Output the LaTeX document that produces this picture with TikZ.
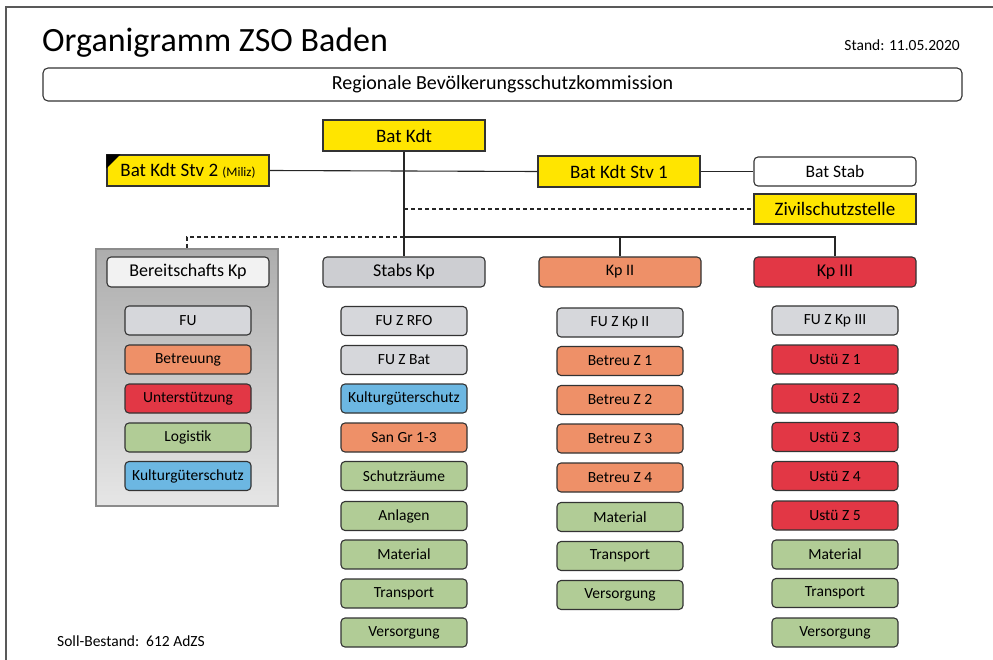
\documentclass[tikz,border=0pt]{standalone}
\usepackage{fontspec}
\setmainfont{Carlito}
\usetikzlibrary{calc}
\definecolor{zyellow}{HTML}{FFE500}
\definecolor{zgray}{HTML}{D6D7DB}
\definecolor{zhgray}{HTML}{CDCED2}
\definecolor{zorange}{HTML}{EE9068}
\definecolor{zred}{HTML}{E23745}
\definecolor{zgreen}{HTML}{B1CC96}
\definecolor{zblue}{HTML}{6CB7E2}
\definecolor{zborder}{HTML}{333333}
\definecolor{ztop}{HTML}{ADADAD}
\definecolor{zbot}{HTML}{E6E6E6}
\tikzset{
  ybox/.style={draw=zborder, line width=1.1pt, fill=zyellow, minimum width=162pt, minimum height=31pt, inner sep=0pt, font=\fontsize{19}{22}\selectfont},
  hbox/.style={draw=zborder, line width=1.1pt, rounded corners=4pt, minimum width=162pt, minimum height=30pt, inner sep=0pt, font=\fontsize{18}{21}\selectfont},
  sub/.style={draw=zborder, line width=1.1pt, rounded corners=4pt, minimum width=126pt, minimum height=29pt, inner sep=0pt, font=\fontsize{15.5}{18}\selectfont},
  conn/.style={line width=1.1pt, draw=black!85},
  dconn/.style={conn, dashed, dash pattern=on 4pt off 3pt}
}
\begin{document}
\begin{tikzpicture}[x=1pt,y=-1pt]
\useasboundingbox (0,0) rectangle (993,660);
% frame
\draw[line width=1.3pt, draw=black!65] (6,660) -- (6,7) -- (993,7);
% title
\node[anchor=base west, inner sep=0pt, font=\fontsize{34}{40}\selectfont] (title) at (42,52) {Organigramm ZSO Baden};
\node[anchor=base east, inner sep=0pt, font=\fontsize{15.5}{18}\selectfont] (stand) at (960,51) {Stand: 11.05.2020};
\node[draw=zborder, line width=1.1pt, rounded corners=5pt, minimum width=919pt, minimum height=33pt, inner sep=0pt, font=\fontsize{20}{23}\selectfont] (comm) at (502.5,84.5) {Regionale Bevölkerungsschutzkommission};
% top level
\node[ybox] (batkdt) at (404,135.5) {Bat Kdt};
\node[ybox] (stv2) at (188,170.5) {Bat Kdt Stv 2 {\fontsize{13}{15}\selectfont (Miliz)}};
\fill[black] (stv2.north west) -- ++(14,0) -- ++(-14,14) -- cycle;
\node[ybox] (stv1) at (619,171.5) {Bat Kdt Stv 1};
\node[hbox, fill=white, minimum height=29pt, font=\fontsize{17.5}{20}\selectfont] (stab) at (835,171.5) {Bat Stab};
\node[ybox, minimum height=30pt] (zs) at (835,209) {Zivilschutzstelle};
% gray container
\node[draw=black!45, line width=1.1pt, top color=ztop, bottom color=zbot, minimum width=182pt, minimum height=257pt, inner sep=0pt] (bgrp) at (187,377.5) {};
% headers
\node[hbox, fill=black!5] (bk) at (188,272) {Bereitschafts Kp};
\node[hbox, fill=zhgray] (sk) at (404,272) {Stabs Kp};
\node[hbox, fill=zorange, font=\fontsize{16}{19}\selectfont] (k2) at (620,272) {Kp II};
\node[hbox, fill=zred, font=\fontsize{18}{21}\selectfont] (k3) at (835,272) {Kp III};
% connectors
\coordinate (j1) at (404,237);
\draw[conn] (stv2.east) -- (stv1.west);
\draw[conn] (stv1.east) -- (stab.west);
\draw[conn] (batkdt.south) -- (sk.north);
\draw[dconn] (batkdt.south |- zs.west) -- (zs.west);
\draw[conn] (j1) -- (j1 -| k3.north) -- (k3.north);
\draw[conn] (j1 -| k2.north) -- (k2.north);
\draw[dconn] (j1) -| (bgrp.north);
% Bereitschafts column
\node[sub, fill=zgray] (b1) at (188,320.5) {FU};
\node[sub, fill=zorange] (b2) at (188,359.5) {Betreuung};
\node[sub, fill=zred] (b3) at (188,398.5) {Unterstützung};
\node[sub, fill=zgreen] (b4) at (188,437.5) {Logistik};
\node[sub, fill=zblue] (b5) at (188,476) {Kulturgüterschutz};
% Stabs column
\node[sub, fill=zgray] (s1) at (404,321) {FU Z RFO};
\node[sub, fill=zgray] (s2) at (404,360) {FU Z Bat};
\node[sub, fill=zblue] (s3) at (404,398.5) {Kulturgüterschutz};
\node[sub, fill=zorange] (s4) at (404,437.5) {San Gr 1-3};
\node[sub, fill=zgreen] (s5) at (404,476) {Schutzräume};
\node[sub, fill=zgreen] (s6) at (404,516) {Anlagen};
\node[sub, fill=zgreen] (s7) at (404,554.5) {Material};
\node[sub, fill=zgreen] (s8) at (404,593.5) {Transport};
\node[sub, fill=zgreen] (s9) at (404,632.5) {Versorgung};
% Kp II column
\node[sub, fill=zgray] (c1) at (620,322.5) {FU Z Kp II};
\node[sub, fill=zorange] (c2) at (620,361) {Betreu Z 1};
\node[sub, fill=zorange] (c3) at (620,400) {Betreu Z 2};
\node[sub, fill=zorange] (c4) at (620,438.5) {Betreu Z 3};
\node[sub, fill=zorange] (c5) at (620,477.5) {Betreu Z 4};
\node[sub, fill=zgreen] (c6) at (620,517) {Material};
\node[sub, fill=zgreen] (c7) at (620,556) {Transport};
\node[sub, fill=zgreen] (c8) at (620,595) {Versorgung};
% Kp III column
\node[sub, fill=zgray] (d1) at (835,320.5) {FU Z Kp III};
\node[sub, fill=zred] (d2) at (835,359.5) {Ustü Z 1};
\node[sub, fill=zred] (d3) at (835,398.5) {Ustü Z 2};
\node[sub, fill=zred] (d4) at (835,437) {Ustü Z 3};
\node[sub, fill=zred] (d5) at (835,476) {Ustü Z 4};
\node[sub, fill=zred] (d6) at (835,515.5) {Ustü Z 5};
\node[sub, fill=zgreen] (d7) at (835,554.5) {Material};
\node[sub, fill=zgreen] (d8) at (835,593) {Transport};
\node[sub, fill=zgreen] (d9) at (835,632.5) {Versorgung};
% footer
\node[anchor=base west, inner sep=0pt, font=\fontsize{15.5}{18}\selectfont] (soll) at (57,646) {Soll-Bestand:\ \ 612 AdZS};
\end{tikzpicture}
\end{document}
